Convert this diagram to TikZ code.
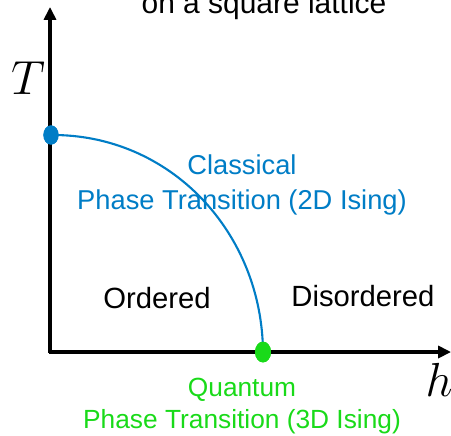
\documentclass[tikz,border=0pt]{standalone}
\usepackage{fix-cm}
\usepackage{fontspec}
\setmainfont{Liberation Sans}
\usetikzlibrary{arrows.meta}
\definecolor{clblue}{RGB}{0,125,198}
\definecolor{qgreen}{RGB}{25,218,25}
\tikzset{
  axis/.style={line width=2.2pt,-{Triangle[length=0.32cm,width=0.3cm]}},
  dot/.style={ellipse,inner sep=0pt,minimum width=0.38cm,minimum height=0.48cm},
  lbl/.style={align=center,font=\fontsize{19.4}{24.8}\selectfont},
}
\usetikzlibrary{shapes.geometric}
\begin{document}
\begin{tikzpicture}[x=0.025cm,y=-0.025cm]
\useasboundingbox (0,0) rectangle (451,435);
\coordinate (o) at (50,352);
\coordinate (ytop) at (50,7);
\coordinate (xend) at (451,352);
\draw[axis] (50,353.2) -- (ytop);
\draw[axis] (48.9,352) -- (xend);
\node (T) at (28,78) {\fontsize{34}{38}\selectfont $T$};
\node (h) at (439,380) {\fontsize{34}{38}\selectfont $h$};
% transition line
\node[dot,fill=clblue] (tc) at (51,135) {};
\node[dot,fill=qgreen,minimum width=0.4cm,minimum height=0.52cm] (hc) at (263,352) {};
\draw[clblue,line width=1.5pt] (tc.center) .. controls (170,134) and (262,232) .. (hc.center);
\node[dot,fill=clblue] at (tc) {};
\node[dot,fill=qgreen,minimum width=0.4cm,minimum height=0.52cm] at (hc) {};
\node[lbl,text=clblue] (classical) at (242,185) {Classical\\Phase Transition (2D Ising)};
\node[lbl,text=qgreen,font=\fontsize{18.7}{23.4}\selectfont] (quantum) at (242,406) {Quantum\\Phase Transition (3D Ising)};
\node[font=\fontsize{20.8}{24}\selectfont] (ord) at (157,298) {Ordered};
\node[font=\fontsize{20.8}{24}\selectfont] (dis) at (363,296) {Disordered};
\node[anchor=base,font=\fontsize{21.3}{24}\selectfont] (title) at (264,13) {on a square lattice};
\end{tikzpicture}
\end{document}
